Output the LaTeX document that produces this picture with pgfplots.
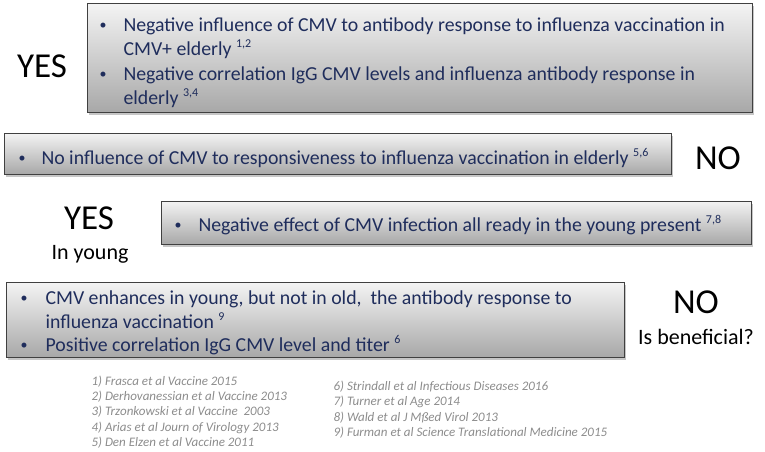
\documentclass[border=0pt]{standalone}
\usepackage{pgfplots}
\pgfplotsset{compat=1.18}
\usepackage{fontspec}
\setmainfont{Carlito}
\usetikzlibrary{shadows}
\definecolor{txt}{HTML}{1F2D5C}
\definecolor{reft}{HTML}{8C8C8C}
\definecolor{boxtop}{HTML}{F4F4F4}
\definecolor{boxbot}{HTML}{A8A8A8}
\definecolor{boxline}{HTML}{404040}
\newcommand{\sups}[1]{\raisebox{7.5pt}{\fontsize{12}{14}\selectfont #1}}
\begin{document}
\begin{tikzpicture}
\begin{axis}[
  width=765pt, height=451pt, scale only axis,
  xmin=0, xmax=765, ymin=0, ymax=451, y dir=reverse,
  axis lines=none, clip=false,
  every node/.style={inner sep=0pt},
]
% boxes
\tikzset{bx/.style={draw=boxline, line width=0.8pt, top color=boxtop, bottom color=boxbot,
   drop shadow={shadow xshift=2pt, shadow yshift=-2.5pt, opacity=0.45}}}
\path[bx] (axis cs:87,3) rectangle (axis cs:752,112);
\path[bx] (axis cs:4,133) rectangle (axis cs:671,174);
\path[bx] (axis cs:161,201) rectangle (axis cs:751,244);
\path[bx] (axis cs:6,282) rectangle (axis cs:624,357);
% box 1
\def\fs{\fontsize{19.8}{22}\selectfont}
\def\bul{\fontsize{14}{16}\selectfont\textbullet}
\node[anchor=base west, text=txt] at (axis cs:96,29) {\bul};
\node[anchor=base west, text=txt] at (axis cs:120,31) {\fs Negative influence of CMV to antibody response to influenza vaccination in};
\node[anchor=base west, text=txt] at (axis cs:120,55) {\fs CMV+ elderly \sups{1,2}};
\node[anchor=base west, text=txt] at (axis cs:96,78) {\bul};
\node[anchor=base west, text=txt] at (axis cs:120,80) {\fs Negative correlation IgG CMV levels and influenza antibody response in};
\node[anchor=base west, text=txt] at (axis cs:120,104) {\fs elderly \sups{3,4}};
% box 2
\node[anchor=base west, text=txt] at (axis cs:15,162) {\bul};
\node[anchor=base west, text=txt] at (axis cs:38,164) {\fs No influence of CMV to responsiveness to influenza vaccination in elderly \sups{5,6}};
% box 3
\node[anchor=base west, text=txt] at (axis cs:171,229) {\bul};
\node[anchor=base west, text=txt] at (axis cs:195,231) {\fs Negative effect of CMV infection all ready in the young present \sups{7,8}};
% box 4
\node[anchor=base west, text=txt] at (axis cs:17,302) {\bul};
\node[anchor=base west, text=txt] at (axis cs:42,304) {\fs CMV enhances in young, but not in old,\ \ the antibody response to};
\node[anchor=base west, text=txt] at (axis cs:42,328) {\fs influenza vaccination \sups{9}};
\node[anchor=base west, text=txt] at (axis cs:17,349) {\bul};
\node[anchor=base west, text=txt] at (axis cs:42,351) {\fs Positive correlation IgG CMV level and titer \sups{6}};
% side labels
\def\big{\fontsize{35}{38}\selectfont}
\def\mid{\fontsize{22}{25}\selectfont}
\node[anchor=base] at (axis cs:42,77) {\big YES};
\node[anchor=base] at (axis cs:718,169) {\big NO};
\node[anchor=base] at (axis cs:89,229) {\big YES};
\node[anchor=base] at (axis cs:90,259) {\mid In young};
\node[anchor=base] at (axis cs:696,313) {\big NO};
\node[anchor=base] at (axis cs:696,344) {\mid Is beneficial?};
% references
\def\rf{\fontsize{13}{15}\selectfont\itshape}
\node[anchor=base west, text=reft] at (axis cs:88,385) {\rf 1) Frasca et al Vaccine 2015};
\node[anchor=base west, text=reft] at (axis cs:88,400) {\rf 2) Derhovanessian et al Vaccine 2013};
\node[anchor=base west, text=reft] at (axis cs:88,415) {\rf 3) Trzonkowski et al Vaccine\ \ 2003};
\node[anchor=base west, text=reft] at (axis cs:88,431) {\rf 4) Arias et al Journ of Virology 2013};
\node[anchor=base west, text=reft] at (axis cs:88,446) {\rf 5) Den Elzen et al Vaccine 2011};
\node[anchor=base west, text=reft] at (axis cs:330,390) {\rf 6) Strindall et al Infectious Diseases 2016};
\node[anchor=base west, text=reft] at (axis cs:330,405) {\rf 7) Turner et al Age 2014};
\node[anchor=base west, text=reft] at (axis cs:330,421) {\rf 8) Wald et al J Mßed Virol 2013};
\node[anchor=base west, text=reft] at (axis cs:330,436) {\rf 9) Furman et al Science Translational Medicine 2015};
\end{axis}
\pgfresetboundingbox
\path[use as bounding box] (current axis.south west) rectangle (current axis.north east);
\end{tikzpicture}
\end{document}
